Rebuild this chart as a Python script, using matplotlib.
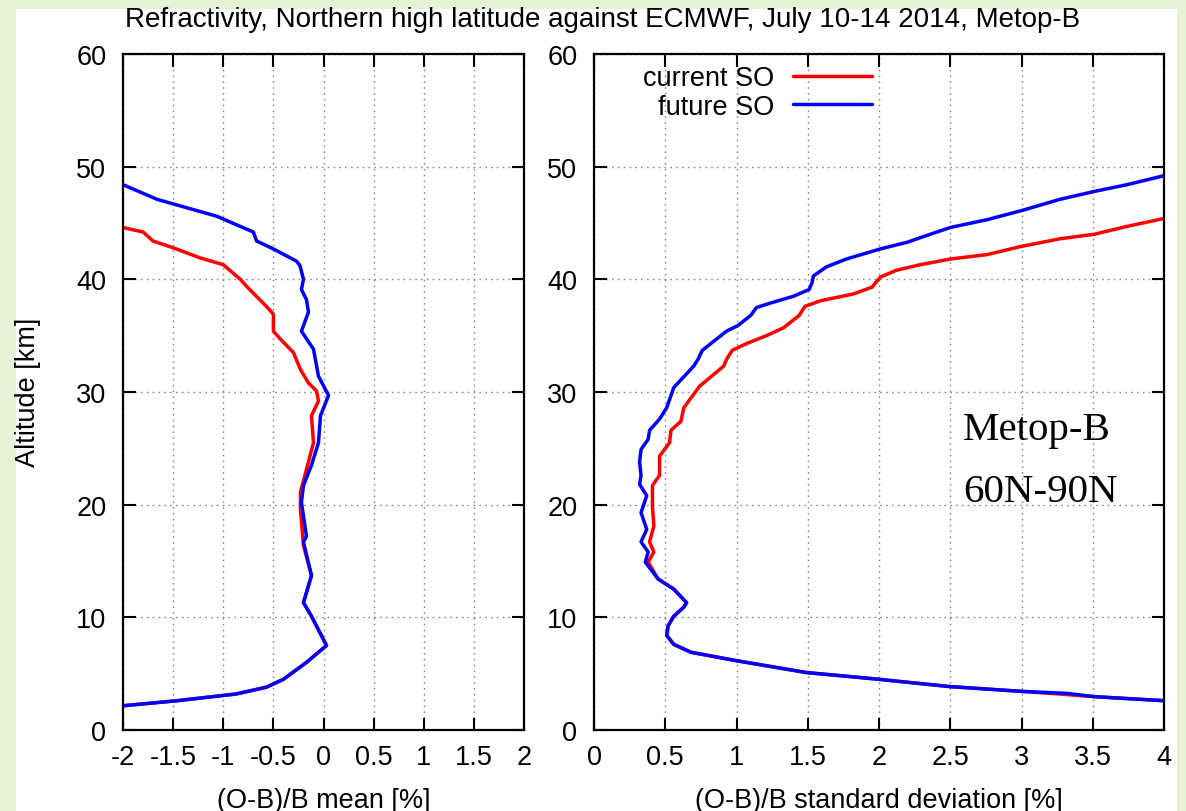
import matplotlib
matplotlib.use("Agg")
import matplotlib.pyplot as plt
from matplotlib.patches import Rectangle
from matplotlib.ticker import FuncFormatter, MultipleLocator

# ---------------- data ----------------
# Left panel: (O-B)/B mean [%]
mean_cur_alt = [44.6, 44.2, 43.4, 42.8, 41.9, 41.3, 40.0, 39.4, 38.5, 37.6, 36.9, 35.4, 34.7,
                33.5, 32.0, 30.8, 30.1, 29.2, 27.9, 25.5, 23.8, 21.1, 19.6, 16.4, 13.7, 11.3,
                10.1, 7.5, 6.0, 4.5, 3.8, 3.2, 2.6, 2.15]
mean_cur_val = [-2.0, -1.80, -1.70, -1.50, -1.23, -1.0, -0.83, -0.77, -0.67, -0.57, -0.50, -0.50,
                -0.43, -0.30, -0.23, -0.15, -0.07, -0.05, -0.12, -0.10, -0.15, -0.23, -0.23,
                -0.20, -0.12, -0.20, -0.12, 0.03, -0.17, -0.40, -0.57, -0.87, -1.46, -2.0]

mean_fut_alt = [48.4, 47.1, 45.6, 44.2, 43.4, 42.7, 41.6, 41.2, 40.0, 39.1, 38.2, 37.1, 35.4,
                33.8, 31.4, 29.7, 27.9, 25.5, 23.5, 21.7, 20.2, 17.2, 16.7, 13.7, 11.3, 10.1,
                7.5, 6.0, 4.5, 3.8, 3.2, 2.6, 2.15]
mean_fut_val = [-2.0, -1.66, -1.065, -0.70, -0.667, -0.50, -0.267, -0.234, -0.20, -0.22, -0.17,
                -0.15, -0.22, -0.10, -0.05, 0.05, -0.03, -0.05, -0.12, -0.20, -0.22, -0.17,
                -0.20, -0.12, -0.20, -0.12, 0.03, -0.17, -0.40, -0.57, -0.87, -1.46, -2.0]

# Right panel: (O-B)/B standard deviation [%]
std_cur_alt = [45.4, 44.7, 44.0, 43.6, 42.9, 42.2, 41.8, 41.3, 40.8, 40.2, 39.3, 38.7, 38.1,
               37.6, 36.8, 35.7, 35.0, 34.3, 33.7, 32.9, 32.3, 30.5, 28.6, 27.4, 26.6, 25.5,
               24.3, 22.6, 21.7, 19.9, 18.1, 16.7, 15.8, 14.9, 13.4, 12.5, 11.3, 10.9, 10.1,
               9.25, 8.4, 7.6, 6.9, 6.15, 5.1, 4.5, 4.3, 3.85, 3.43, 3.2, 2.96, 2.6]
std_cur_val = [4.0, 3.74, 3.51, 3.27, 2.99, 2.76, 2.50, 2.29, 2.12, 2.01, 1.95, 1.82, 1.59,
               1.48, 1.44, 1.33, 1.21, 1.07, 0.97, 0.93, 0.91, 0.74, 0.63, 0.61, 0.54, 0.53,
               0.46, 0.46, 0.41, 0.41, 0.42, 0.39, 0.42, 0.38, 0.45, 0.56, 0.65, 0.63, 0.56,
               0.52, 0.51, 0.56, 0.68, 1.0, 1.49, 2.0, 2.15, 2.50, 3.0, 3.26, 3.51, 4.0]

std_fut_alt = [49.2, 48.4, 47.8, 47.1, 46.1, 45.3, 44.6, 44.3, 43.7, 43.3, 42.7, 41.8, 41.1,
               40.3, 39.7, 39.1, 38.5, 37.9, 37.5, 36.8, 35.9, 35.4, 34.3, 33.7, 32.9, 32.3,
               30.4, 28.6, 27.6, 26.6, 25.8, 24.9, 23.8, 22.6, 21.8, 20.8, 19.3, 17.8, 16.7,
               15.8, 14.9, 13.4, 12.5, 11.3, 10.9, 10.1, 9.25, 8.4, 7.6, 6.9, 6.15, 5.1, 4.5,
               4.3, 3.85, 3.43, 3.25, 2.96, 2.6]
std_fut_val = [4.0, 3.74, 3.51, 3.27, 3.0, 2.76, 2.50, 2.43, 2.29, 2.20, 2.01, 1.77, 1.63,
               1.54, 1.53, 1.51, 1.40, 1.24, 1.14, 1.10, 1.01, 0.93, 0.82, 0.76, 0.73, 0.70,
               0.56, 0.51, 0.46, 0.39, 0.38, 0.33, 0.32, 0.33, 0.32, 0.37, 0.33, 0.37, 0.33,
               0.38, 0.36, 0.45, 0.56, 0.65, 0.63, 0.56, 0.52, 0.51, 0.56, 0.68, 1.0, 1.49,
               2.0, 2.15, 2.50, 3.0, 3.32, 3.51, 4.0]

series_labels = ["current SO", "future SO"]
series_colors = ["#ff0000", "#0000ff"]

title_text = "Refractivity, Northern high latitude against ECMWF, July 10-14 2014, Metop-B"
xlabel_left = "(O-B)/B mean [%]"
xlabel_right = "(O-B)/B standard deviation [%]"
ylabel_text = "Altitude [km]"
annot_lines = ["Metop-B", "60N-90N"]

# ---------------- figure ----------------
plt.rcParams['font.family'] = ['Liberation Sans', 'DejaVu Sans']
FS = 19.5
W, H = 1186, 812
fig = plt.figure(figsize=(W / 100, H / 100), dpi=100)
fig.patch.set_facecolor('#e6f1d6')
fig.patches.append(Rectangle((16 / W, 0), (1177 - 16) / W, (H - 10) / H,
                             transform=fig.transFigure, facecolor='white',
                             edgecolor='none', zorder=-10))

ax_bottom = (H - 731) / H
ax_height = (731 - 55) / H
axL = fig.add_axes([123 / W, ax_bottom, (524 - 123) / W, ax_height])
axR = fig.add_axes([594 / W, ax_bottom, (1164 - 594) / W, ax_height])

fmt = FuncFormatter(lambda v, p: '%g' % v)
for ax in (axL, axR):
    ax.set_facecolor('none')
    ax.set_ylim(0, 60)
    ax.yaxis.set_major_locator(MultipleLocator(10))
    ax.xaxis.set_major_locator(MultipleLocator(0.5))
    ax.xaxis.set_major_formatter(fmt)
    ax.yaxis.set_major_formatter(fmt)
    ax.tick_params(direction='in', length=9, width=1.5, top=True, right=True,
                   labelsize=FS, pad=12, color='black')
    ax.tick_params(axis='x', pad=10)
    for s in ax.spines.values():
        s.set_linewidth(1.6)
    ax.grid(True, color='#888888', linestyle=(0, (1.2, 3)), linewidth=1.0)
    ax.set_axisbelow(True)

axL.set_xlim(-2, 2)
axR.set_xlim(0, 4)

lw = 2.5
kw = dict(lw=lw, solid_joinstyle='round', solid_capstyle='round')
axL.plot(mean_cur_val, mean_cur_alt, color=series_colors[0], label=series_labels[0], **kw)
axL.plot(mean_fut_val, mean_fut_alt, color=series_colors[1], label=series_labels[1], **kw)
axR.plot(std_cur_val, std_cur_alt, color=series_colors[0], label=series_labels[0], **kw)
axR.plot(std_fut_val, std_fut_alt, color=series_colors[1], label=series_labels[1], **kw)

axL.set_xlabel(xlabel_left, fontsize=FS, labelpad=12)
axR.set_xlabel(xlabel_right, fontsize=FS, labelpad=12)

fig.text(28 / W, 1 - 392 / H, ylabel_text, rotation=90, ha='center', va='center', fontsize=FS)
fig.text(603 / W, 1 - 20 / H, title_text, ha='center', va='center', fontsize=20)

leg = axR.legend(loc='upper right', bbox_to_anchor=((872 - 594) / 570, (731 - 66) / 676),
                 frameon=False, markerfirst=False, fontsize=FS, handlelength=2.9,
                 handletextpad=0.7, labelspacing=0.1, borderpad=0, borderaxespad=0)

axR.text((963 - 594) / 570, (731 - 440) / 676, annot_lines[0], transform=axR.transAxes,
         family=['Liberation Serif', 'DejaVu Serif'], fontsize=29.5, va='baseline', ha='left')
axR.text((963 - 594) / 570, (731 - 502) / 676, annot_lines[1], transform=axR.transAxes,
         family=['Liberation Serif', 'DejaVu Serif'], fontsize=29.5, va='baseline', ha='left')

fig.savefig('out.png', dpi=100, facecolor=fig.get_facecolor())
